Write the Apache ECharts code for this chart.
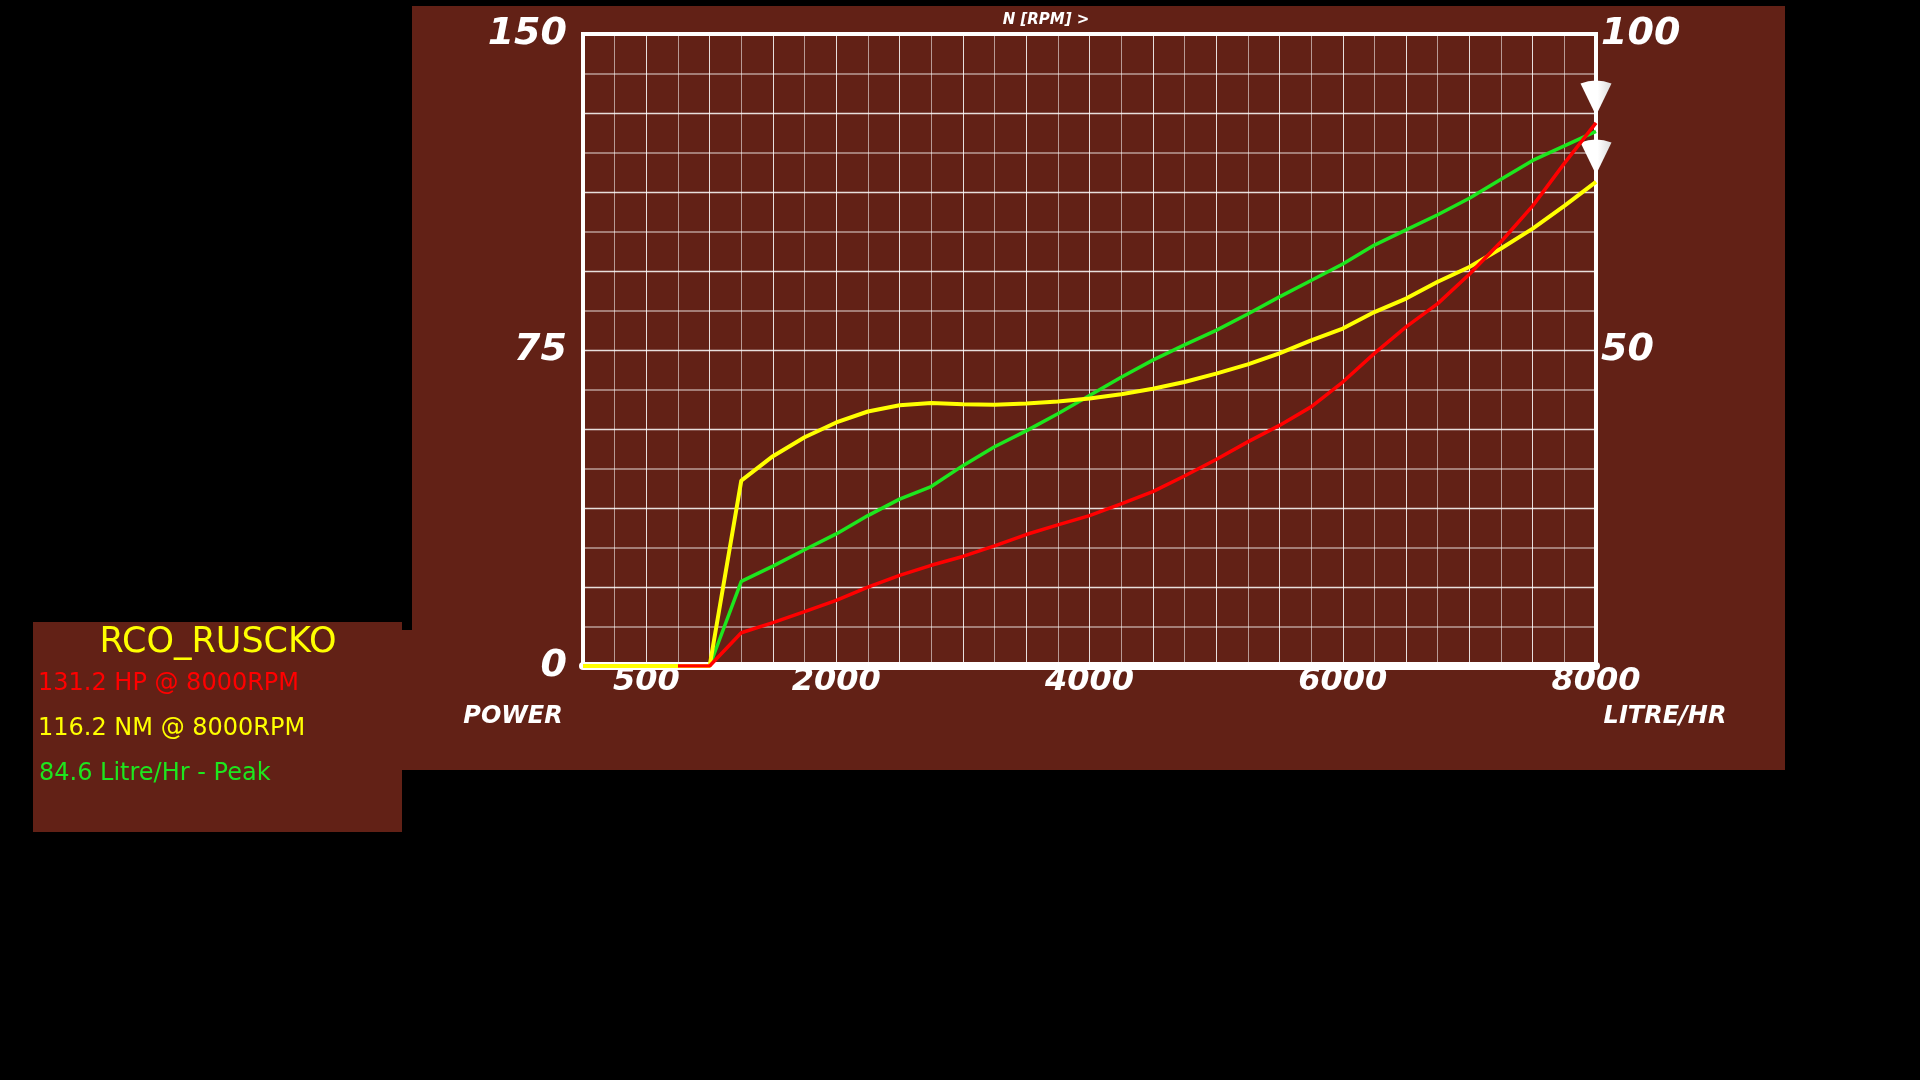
<!DOCTYPE html>
<html>
<head>
<meta charset="utf-8">
<script src="https://cdn.jsdelivr.net/npm/echarts@6/dist/echarts.min.js"></script>
<style>
html,body{margin:0;padding:0;background:#000;}
#chart{width:1920px;height:1080px;}
</style>
</head>
<body>
<div id="chart"></div>
<script>
// ---- data ----
const rpm = [0,250,500,750,1000,1250,1500,1750,2000,2250,2500,2750,3000,3250,3500,3750,4000,
             4250,4500,4750,5000,5250,5500,5750,6000,6250,6500,6750,7000,7250,7500,7750,8000];
const powerHP = [null,null,null,0,0,7.9,10.3,12.9,15.6,18.7,21.5,23.9,26.0,28.5,31.2,33.5,35.7,
                 38.5,41.4,45.1,49.0,53.2,57.1,61.5,67.4,74.2,80.5,86.0,93.0,100.7,109.2,119.3,128.9];
const torqueNM = [0,0,0,0,0,44.0,49.8,54.3,57.8,60.4,61.9,62.4,62.1,62.0,62.3,62.8,63.5,
                  64.5,65.8,67.4,69.4,71.6,74.2,77.3,80.1,84.0,87.2,91.2,94.7,99.1,103.8,109.2,114.9];
const fuelLph = [0,0,0,0,0,13.4,15.8,18.4,20.9,23.8,26.4,28.4,31.7,34.7,37.2,39.9,42.8,
                 45.7,48.4,50.8,53.1,55.7,58.4,61.0,63.6,66.6,69.0,71.4,74.0,77.0,80.0,82.3,84.6];
const xTickLabels = [500,2000,4000,6000,8000];
const leftTickLabels = [0,75,150];
const rightTickLabels = [50,100];
const chartTitle = 'N [RPM] >';
const leftAxisName = 'POWER';
const rightAxisName = 'LITRE/HR';
const infoTitle = 'RCO_RUSCKO';
const infoLines = ['131.2 HP @ 8000RPM','116.2 NM @ 8000RPM','84.6 Litre/Hr - Peak'];

// ---- styles ----
const BROWN = '#622116';
const RED = '#ff0000', YELLOW = '#ffff00', GREEN = '#1ee61e';
const FONT = 'DejaVu Sans';
const toPairs = (ys) => rpm.map((x, i) => [x, ys[i]]);
const arrowPath = 'path://M0,4 Q16,-2 32,4 L16,36 Z';
const arrowFill = {type:'linear', x:0, y:0, x2:1, y2:0, colorStops:[
  {offset:0, color:'#ffffff'},{offset:0.55, color:'#ffffff'},{offset:1, color:'#dcdcdc'}]};
const markArrow = {
  symbol: arrowPath, symbolSize: [31, 35], symbolOffset: [0, -25],
  label: {show:false}, itemStyle: {color: arrowFill},
  data: [{type:'max'}], silent: true
};
const axisLabelStyle = {color:'#fff', fontFamily:FONT, fontWeight:'bold', fontStyle:'italic'};
const nameStyle = {color:'#fff', fontFamily:FONT, fontWeight:'bold', fontStyle:'italic', fontSize:24};
const shadow = {textShadowColor:'#000', textShadowOffsetX:2, textShadowOffsetY:2, textShadowBlur:0};

const chart = echarts.init(document.getElementById('chart'), null, {renderer:'canvas'});
chart.setOption({
  backgroundColor: '#000',
  animation: false,
  title: {
    text: chartTitle, left: 1041, top: 8, textAlign: 'center',
    textStyle: {color:'#fff', fontFamily:FONT, fontWeight:'bold', fontStyle:'italic', fontSize:15}
  },
  grid: {
    left: 583, top: 34, width: 1013, height: 632,
    show: true, borderColor: '#fff', borderWidth: 4, backgroundColor: 'transparent',
    containLabel: false, outerBoundsMode: 'none'
  },
  xAxis: [
    {
      type: 'value', min: 0, max: 8000, interval: 500, position: 'bottom',
      axisLine: {show:false}, axisTick: {show:false},
      axisLabel: Object.assign({fontSize:32, margin:0,
        formatter: v => xTickLabels.includes(v) ? String(v) : ''}, axisLabelStyle),
      splitLine: {show:true, lineStyle:{color:'rgba(255,255,255,0.85)', width:1}},
      minorTick: {show:false, splitNumber:2},
      minorSplitLine: {show:true, lineStyle:{color:'rgba(255,255,255,0.55)', width:1}}
    },
    {
      type: 'value', min: 0, max: 8000, position: 'top',
      axisLine: {show:true, lineStyle:{color:'#fff', width:8}},
      axisTick: {show:false}, axisLabel: {show:false}, splitLine: {show:false}
    }
  ],
  yAxis: [
    {
      type: 'value', min: 0, max: 150, interval: 18.75, position: 'left',
      axisLine: {show:false}, axisTick: {show:false},
      axisLabel: Object.assign({fontSize:38, margin:16,
        formatter: v => leftTickLabels.includes(v) ? String(v) : ''}, axisLabelStyle),
      splitLine: {show:true, lineStyle:{color:'rgba(255,255,255,0.85)', width:1.3}},
      minorTick: {show:false, splitNumber:2},
      minorSplitLine: {show:true, lineStyle:{color:'rgba(255,255,255,0.42)', width:2}},
      name: leftAxisName, nameLocation: 'start', nameGap: 51, nameMoveOverlap: false,
      nameTextStyle: Object.assign({align:'center', verticalAlign:'middle', padding:[0,140,0,0]}, nameStyle)
    },
    {
      type: 'value', min: 0, max: 100, interval: 50, position: 'right',
      axisLine: {show:false}, axisTick: {show:false}, splitLine: {show:false},
      axisLabel: Object.assign({fontSize:38, margin:5,
        formatter: v => rightTickLabels.includes(v) ? String(v) : ''}, axisLabelStyle)
    }
  ],
  series: [
    {
      name: 'Litre/Hr', type: 'line', xAxisIndex: 0, yAxisIndex: 1, data: toPairs(fuelLph),
      showSymbol: false, lineStyle: {color:GREEN, width:3.5}, itemStyle:{color:GREEN}, z: 3
    },
    {
      name: 'NM', type: 'line', xAxisIndex: 0, yAxisIndex: 0, data: toPairs(torqueNM),
      showSymbol: false, lineStyle: {color:YELLOW, width:4}, itemStyle:{color:YELLOW}, z: 4,
      markPoint: markArrow
    },
    {
      name: 'HP', type: 'line', xAxisIndex: 0, yAxisIndex: 0, data: toPairs(powerHP),
      showSymbol: false, lineStyle: {color:RED, width:3.5}, itemStyle:{color:RED}, z: 5,
      markPoint: markArrow
    }
  ],
  graphic: [
    {type:'rect', z:-100, silent:true, shape:{x:412, y:6, width:1373, height:764}, style:{fill:BROWN}},
    {type:'rect', z:-100, silent:true, shape:{x:400, y:630, width:12, height:140}, style:{fill:BROWN}},
    {type:'rect', z:-100, silent:true, shape:{x:33, y:622, width:369, height:210}, style:{fill:BROWN}},
    {type:'text', silent:true, x:1665, y:717, style:Object.assign({text:rightAxisName,
      align:'center', verticalAlign:'middle', fill:'#fff', font:'italic bold 24px "DejaVu Sans"'})},
    {type:'text', silent:true, x:218, y:643, style:Object.assign({text:infoTitle, fill:YELLOW,
      font:'35px "DejaVu Sans"', align:'center', verticalAlign:'middle'}, shadow)},
    {type:'text', silent:true, x:38, y:684, style:Object.assign({text:infoLines[0], fill:RED,
      font:'24px "DejaVu Sans"', align:'left', verticalAlign:'middle'}, shadow)},
    {type:'text', silent:true, x:38, y:729, style:Object.assign({text:infoLines[1], fill:YELLOW,
      font:'24px "DejaVu Sans"', align:'left', verticalAlign:'middle'}, shadow)},
    {type:'text', silent:true, x:39, y:774, style:Object.assign({text:infoLines[2], fill:GREEN,
      font:'24px "DejaVu Sans"', align:'left', verticalAlign:'middle'}, shadow)}
  ]
});
</script>
</body>
</html>
